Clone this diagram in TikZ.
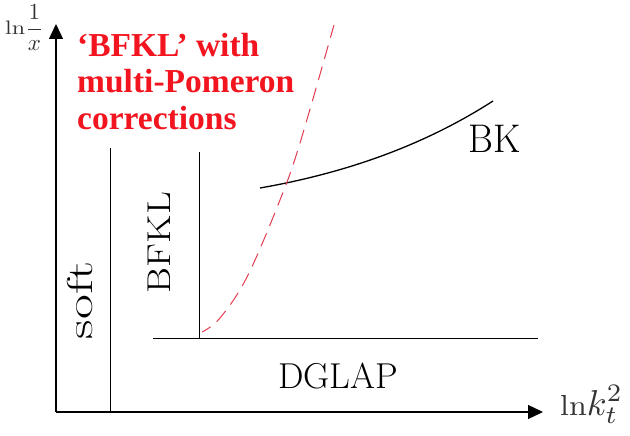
\documentclass[tikz,border=0pt]{standalone}
\usepackage{amsmath}
\usepackage{fontspec}
\newfontfamily\redfont{Liberation Serif}
\usetikzlibrary{arrows.meta}
\definecolor{redtxt}{HTML}{F2141E}
\definecolor{reddash}{HTML}{E23C50}
\definecolor{axlab}{HTML}{333333}
\tikzset{
  axis/.style={line width=1.3pt,-{Triangle[length=15pt,width=14pt]}},
  border/.style={line width=1pt},
  lab/.style={inner sep=0pt,font=\fontsize{34}{40}\selectfont},
}
\begin{document}
\begin{tikzpicture}[x=1pt,y=-1pt]
\useasboundingbox (0,0) rectangle (630,436);
% axes
\coordinate (O) at (56,412);
\coordinate (Ytop) at (56,24);
\coordinate (Xend) at (543,412);
\draw[axis] (O) -- (Ytop);
\draw[axis] (O) -- (Xend);
% boundary lines
\coordinate (s1) at (110,148); \coordinate (s2) at (110,412);
\coordinate (b1) at (199,152); \coordinate (b2) at (199,338);
\coordinate (d1) at (153,338); \coordinate (d2) at (538,338);
\draw[border] (s1) -- (s2);
\draw[border] (b1) -- (b2);
\draw[border] (d1) -- (d2);
% BK curve
\coordinate (k1) at (260,188); \coordinate (k2) at (493,101);
\draw[line width=1.3pt] (k1) .. controls (340,174) and (420,148) .. (k2);
% red dashed
\draw[reddash,line width=1pt,dash pattern=on 14pt off 8pt,dash phase=4pt]
  plot[smooth,tension=0.6] coordinates {(202,332) (220,318) (247,277) (280,200) (300,143) (334,25)};
% labels
\node[lab,rotate=90,xscale=1.5,font=\fontsize{36}{40}\selectfont] (soft) at (80,300) {soft};
\node[lab,rotate=90,xscale=1.2,font=\fontsize{33}{38}\selectfont] (bfkl) at (159,242.5) {BFKL};
\node[lab,font=\fontsize{40}{44}\selectfont,xscale=0.95] (bk) at (495,139) {BK};
\node[lab,font=\fontsize{36}{40}\selectfont] (dglap) at (338,376) {DGLAP};
\node[anchor=north west,inner sep=0pt,text=redtxt,font=\redfont\bfseries\fontsize{33.5}{36.5}\selectfont,align=left] (red) at (77,33)
  {‘BFKL’ with\\multi-Pomeron\\corrections};
\node[inner sep=0pt,text=axlab,anchor=base east] (ylab) at (44,35) {\scalebox{2.4}[1.95]{$\ln$}\scalebox{2.3}{$\dfrac{1}{x}$}};
\node[inner sep=0pt,text=axlab,anchor=base west] (xlab) at (560,415) {\scalebox{3.2}[2.9]{$\ln$}\scalebox{3.6}{$k_t^2$}};
\end{tikzpicture}
\end{document}
